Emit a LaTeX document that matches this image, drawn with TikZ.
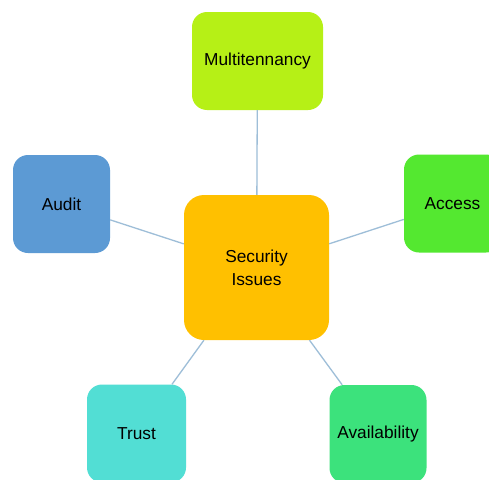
\documentclass[tikz,border=0pt]{standalone}
\usepackage{fontspec}
\setmainfont{Liberation Sans}
\definecolor{linec}{RGB}{158,190,216}
\definecolor{cMulti}{RGB}{182,240,22}
\definecolor{cAccess}{RGB}{84,232,48}
\definecolor{cAudit}{RGB}{92,154,212}
\definecolor{cCenter}{RGB}{255,192,0}
\definecolor{cTrust}{RGB}{82,222,212}
\definecolor{cAvail}{RGB}{60,226,124}
\tikzset{
  box/.style={rectangle, rounded corners=15pt, inner sep=0pt, align=center,
    font=\fontsize{17.3}{21}\selectfont, text=black,
    minimum width=97pt, minimum height=98pt},
  link/.style={draw=linec, line width=1.3pt}
}
\begin{document}
\begin{tikzpicture}[x=1pt,y=-1pt]
\useasboundingbox (0,0) rectangle (489,479);
\clip (0,0) rectangle (489,479);
\fill[white] (0,0) rectangle (489,479);
\node[box, fill=cCenter, minimum width=145pt, minimum height=145pt, rounded corners=20pt] (c) at (256.5,267.5) {Security\\[2pt]Issues};
\node[box, fill=cMulti, minimum width=131pt] (m) at (257.5,61) {Multitennancy};
\node[box, fill=cAccess] (ac) at (452.5,203.5) {Access};
\node[box, fill=cAudit] (au) at (61.5,204) {Audit};
\node[box, fill=cTrust, minimum width=99pt] (t) at (136.5,433.5) {Trust};
\node[box, fill=cAvail] (av) at (378,434) {Availability};
\draw[link] (c) -- (m);
\draw[link] (c) -- (ac);
\draw[link] (c) -- (au);
\draw[link] (c) -- (t);
\draw[link] (c) -- (av);
\end{tikzpicture}
\end{document}
